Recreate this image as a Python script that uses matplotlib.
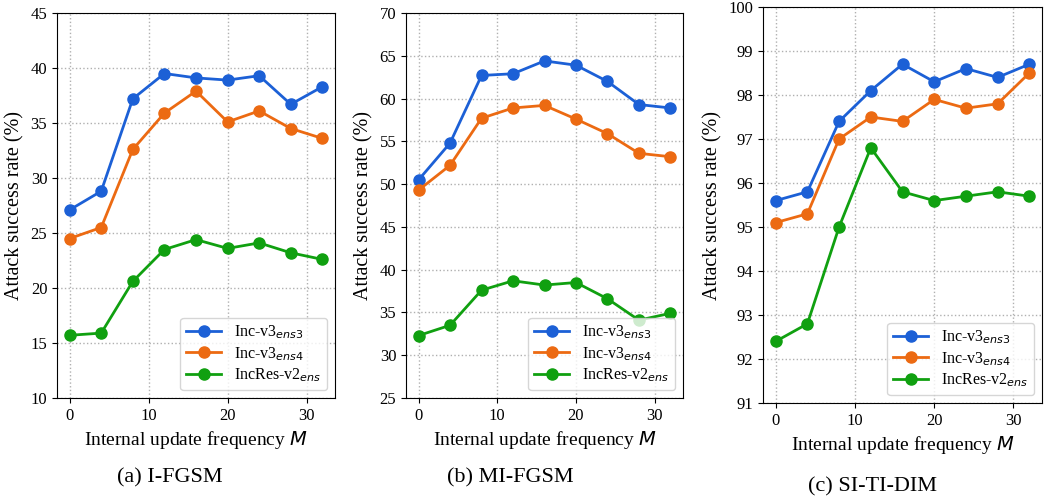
import matplotlib
matplotlib.use("Agg")
import matplotlib.pyplot as plt

plt.rcParams['font.family'] = ['Liberation Serif', 'DejaVu Serif']
plt.rcParams['mathtext.fontset'] = 'dejavusans'

freq = [0, 4, 8, 12, 16, 20, 24, 28, 32]

# (a) I-FGSM
ifgsm_ens3 = [27.1, 28.8, 37.2, 39.5, 39.1, 38.9, 39.3, 36.7, 38.3]
ifgsm_ens4 = [24.5, 25.5, 32.6, 35.9, 37.9, 35.1, 36.1, 34.5, 33.6]
ifgsm_res = [15.7, 15.9, 20.6, 23.5, 24.4, 23.6, 24.1, 23.2, 22.6]

# (b) MI-FGSM
mifgsm_ens3 = [50.5, 54.8, 62.7, 62.9, 64.4, 63.9, 62.0, 59.3, 58.9]
mifgsm_ens4 = [49.3, 52.2, 57.7, 58.9, 59.2, 57.6, 55.9, 53.6, 53.2]
mifgsm_res = [32.3, 33.5, 37.6, 38.7, 38.2, 38.5, 36.6, 34.1, 34.9]

# (c) SI-TI-DIM
sitidim_ens3 = [95.6, 95.8, 97.4, 98.1, 98.7, 98.3, 98.6, 98.4, 98.7]
sitidim_ens4 = [95.1, 95.3, 97.0, 97.5, 97.4, 97.9, 97.7, 97.8, 98.5]
sitidim_res = [92.4, 92.8, 95.0, 96.8, 95.8, 95.6, 95.7, 95.8, 95.7]

labels = ['Inc-v3$_{ens3}$', 'Inc-v3$_{ens4}$', 'IncRes-v2$_{ens}$']
colors = ['#1c60d6', '#ec6a12', '#10a010']
captions = ['(a) I-FGSM', '(b) MI-FGSM', '(c) SI-TI-DIM']

panels = [
    ([ifgsm_ens3, ifgsm_ens4, ifgsm_res], (10, 45), 5),
    ([mifgsm_ens3, mifgsm_ens4, mifgsm_res], (25, 70), 5),
    ([sitidim_ens3, sitidim_ens4, sitidim_res], (91, 100), 1),
]

W, H = 1046, 497
# axes boxes in pixels: left, top, right, bottom
boxes = [(57, 13, 335, 398), (406, 13, 683, 398), (763, 7, 1042, 403)]
cap_pos = [(170, 478), (510, 478), (872, 487)]

fig = plt.figure(figsize=(W / 100, H / 100), dpi=100)

for (series, ylim, step), (l, t, r, b), cap, (cx, cy) in zip(panels, boxes, captions, cap_pos):
    ax = fig.add_axes([l / W, 1 - b / H, (r - l) / W, (b - t) / H])
    for vals, lab, c in zip(series, labels, colors):
        ax.plot(freq, vals, '-o', color=c, label=lab, linewidth=2, markersize=8)
    ax.set_ylim(*ylim)
    ax.set_yticks(range(ylim[0], ylim[1] + 1, step))
    ax.set_xticks([0, 10, 20, 30])
    ax.grid(True, linestyle=':', color='#b0b0b0', linewidth=1)
    ax.tick_params(labelsize=12)
    ax.set_xlabel('Internal update frequency $M$', fontsize=14)
    ax.set_ylabel('Attack success rate (%)', fontsize=14.5)
    ax.legend(loc='lower right', fontsize=11.5, labelspacing=0.25,
              handlelength=2.2, handletextpad=0.8, borderpad=0.35)
    fig.text(cx / W, 1 - cy / H, cap, ha='center', va='center', fontsize=16)

fig.savefig('out.png', dpi=100)
